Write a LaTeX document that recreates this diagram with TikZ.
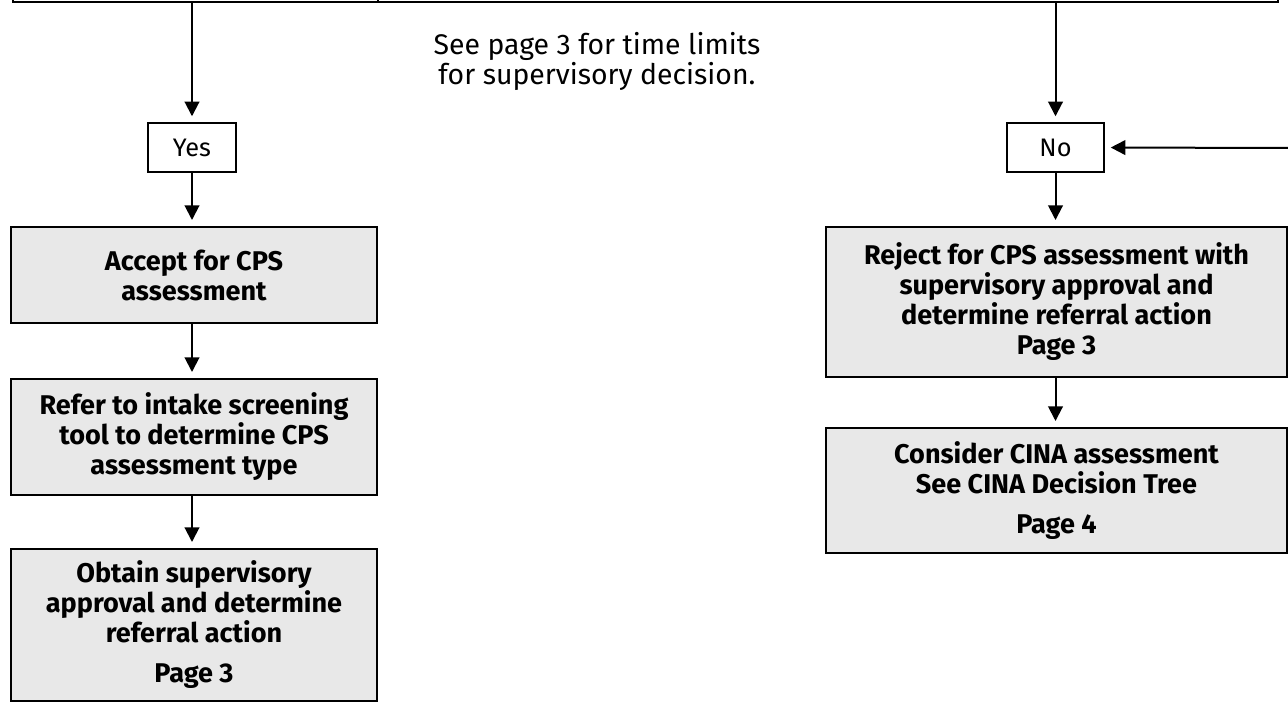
\documentclass[tikz,border=0pt]{standalone}
\usepackage{fontspec}
\setmainfont{Fira Sans}
\usetikzlibrary{arrows.meta}
\definecolor{boxfill}{RGB}{232,232,232}
\tikzset{
  graybox/.style={draw=black, line width=1.5pt, fill=boxfill, align=center, inner sep=0pt,
    font=\fontsize{20.3}{22.5}\selectfont\bfseries},
  answerbox/.style={draw=black, line width=1.1pt, fill=white, inner sep=0pt,
    font=\fontsize{19}{20}\selectfont},
  flow/.style={line width=1.5pt, -{Triangle[width=11pt,length=11pt]}, shorten >=4.5pt},
  frame/.style={line width=1.8pt},
}
\begin{document}
\begin{tikzpicture}[x=0.75pt,y=-0.75pt]
\useasboundingbox (0,0) rectangle (1288,704);
\clip (0,0) rectangle (1288,704);
% cropped frame at top
\draw[frame] (13,-30) -- (13,2) -- (1278,2) -- (1278,-30);
\draw[frame] (378,2) -- (378,-30);
\coordinate (topL) at (192,2);
\coordinate (topR) at (1055.5,2);
\coordinate (fb) at (1290,148);

\node[font=\fontsize{21.3}{22.5}\selectfont, align=center] (note) at (597,61)
  {See page 3 for time limits\\for supervisory decision.};

\node[answerbox, minimum width=66pt, minimum height=36.75pt] (yes) at (192,147.5) {Yes};
\node[answerbox, minimum width=72.75pt, minimum height=36.75pt] (no) at (1055.5,147.5) {No};

\node[graybox, minimum width=274.5pt, minimum height=72pt] (accept) at (194,275)
  {Accept for CPS\\assessment};
\node[graybox, minimum width=274.5pt, minimum height=87pt] (refer) at (194,437)
  {Refer to intake screening\\tool to determine CPS\\assessment type};
\node[graybox, minimum width=274.5pt, minimum height=114pt] (obtain) at (194,625)
  {Obtain supervisory\\approval and determine\\referral action\\[7.5pt]Page 3};

\node[graybox, minimum width=345.75pt, minimum height=112.5pt] (reject) at (1056.5,302)
  {Reject for CPS assessment with\\supervisory approval and\\determine referral action\\Page 3};
\node[graybox, minimum width=345.75pt, minimum height=93.75pt] (consider) at (1056.5,490.5)
  {Consider CINA assessment\\See CINA Decision Tree\\[7.5pt]Page 4};

\draw[flow] (topL) -- (yes.north);
\draw[flow] (topR) -- (no.north);
\draw[flow] (fb) -- (no.east);
\draw[flow] (yes.south) -- (yes.south |- accept.north);
\draw[flow] (yes.south |- accept.south) -- (yes.south |- refer.north);
\draw[flow] (yes.south |- refer.south) -- (yes.south |- obtain.north);
\draw[flow] (no.south) -- (no.south |- reject.north);
\draw[flow] (no.south |- reject.south) -- (no.south |- consider.north);
\end{tikzpicture}
\end{document}
